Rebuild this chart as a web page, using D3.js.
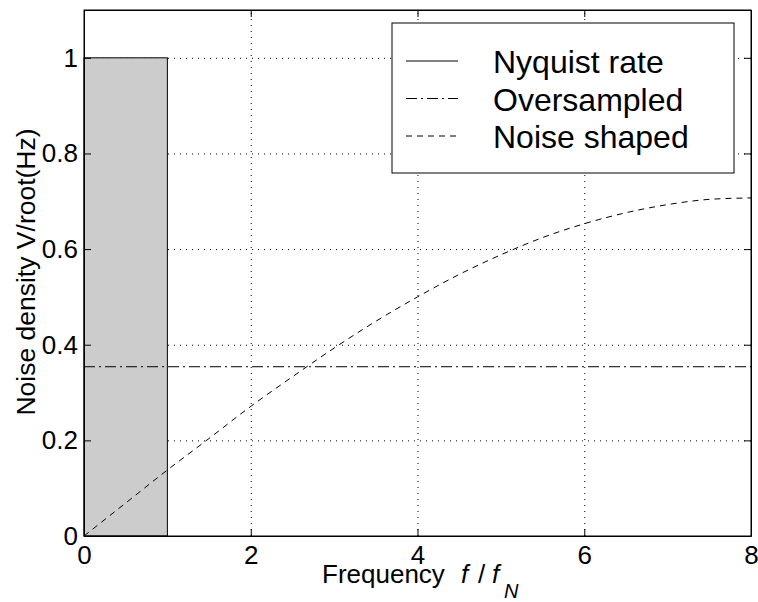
<!DOCTYPE html>
<html>
<head>
<meta charset="utf-8">
<script src="https://cdn.jsdelivr.net/npm/d3@7"></script>
<style>
  body { margin: 0; background: #fff; }
  svg { font-family: "Liberation Sans", Arial, sans-serif; }
  .tickText text { font-size: 26px; fill: #000; }
</style>
</head>
<body>
<div id="chart"></div>
<script>
// Values
var xTicks = [0, 2, 4, 6, 8];
var yTicks = [0, 0.2, 0.4, 0.6, 0.8, 1];
var yTickLabels = ["0", "0.2", "0.4", "0.6", "0.8", "1"];

// Nyquist rate block: flat noise up to f/fN = 1
var nyquistX = [0, 1];
var nyquistY = [1, 1];

// Oversampled: flat level across the band
var overX = [0, 8];
var overY = [0.354, 0.354];

// Noise shaped curve, read at half steps
var shapedX = [0, 0.5, 1, 1.5, 2, 2.5, 3, 3.5, 4, 4.5, 5, 5.5, 6, 6.5, 7, 7.5, 8];
var shapedY = [0, 0.069, 0.138, 0.204, 0.271, 0.333, 0.393, 0.449, 0.5,
               0.547, 0.588, 0.624, 0.653, 0.676, 0.693, 0.704, 0.707];

var legendNames = ["Nyquist rate", "Oversampled", "Noise shaped"];
var legendDash = ["none", "11,4,2,4", "6,5"];

// Size of the SVG
var width = 758;
var height = 602;
var plotLeft = 84, plotRight = 751, plotTop = 10, plotBottom = 536;
var tickLen = 7;

var svg = d3.select("#chart")
    .append("svg")
    .attr("width", width)
    .attr("height", height);

var x = d3.scaleLinear().domain([0, 8]).range([plotLeft, plotRight]);
var y = d3.scaleLinear().domain([0, 1.1]).range([plotBottom, plotTop]);

// Dotted grid
svg.append("g")
    .attr("transform", `translate(0, ${plotBottom})`)
    .call(d3.axisBottom(x).tickValues(xTicks.slice(1, -1)).tickSize(-(plotBottom - plotTop)).tickFormat(""))
    .call(g => g.select(".domain").remove())
    .selectAll("line")
    .attr("stroke", "#666")
    .attr("stroke-dasharray", "1,5");

svg.append("g")
    .attr("transform", `translate(${plotLeft}, 0)`)
    .call(d3.axisLeft(y).tickValues(yTicks.slice(1)).tickSize(-(plotRight - plotLeft)).tickFormat(""))
    .call(g => g.select(".domain").remove())
    .selectAll("line")
    .attr("stroke", "#666")
    .attr("stroke-dasharray", "1,5");

// Nyquist rate rectangle
svg.append("rect")
    .attr("x", x(nyquistX[0]))
    .attr("y", y(nyquistY[0]))
    .attr("width", x(nyquistX[1]) - x(nyquistX[0]))
    .attr("height", y(0) - y(nyquistY[1]))
    .attr("fill", "#cccccc")
    .attr("stroke", "#000")
    .attr("stroke-width", 1);

var line = d3.line()
    .x(function(d){ return x(d[0]); })
    .y(function(d){ return y(d[1]); });

// Oversampled line
svg.append("path")
    .datum(overX.map(function(v, i){ return [v, overY[i]]; }))
    .attr("d", line)
    .attr("fill", "none")
    .attr("stroke", "#000")
    .attr("stroke-width", 1)
    .attr("stroke-dasharray", legendDash[1]);

// Noise shaped curve
svg.append("path")
    .datum(shapedX.map(function(v, i){ return [v, shapedY[i]]; }))
    .attr("d", line.curve(d3.curveMonotoneX))
    .attr("fill", "none")
    .attr("stroke", "#000")
    .attr("stroke-width", 1)
    .attr("stroke-dasharray", legendDash[2]);

// Axes with inward ticks on all four sides
var xAxis = d3.axisBottom(x).tickValues(xTicks).tickSizeInner(-tickLen).tickSizeOuter(0).tickPadding(10);
var yAxis = d3.axisLeft(y).tickValues(yTicks).tickSizeInner(-tickLen).tickSizeOuter(0).tickPadding(6)
    .tickFormat(function(d, i){ return yTickLabels[i]; });

svg.append("g")
    .attr("class", "tickText")
    .attr("transform", `translate(0, ${plotBottom})`)
    .call(xAxis);

svg.append("g")
    .attr("class", "tickText")
    .attr("transform", `translate(${plotLeft}, 0)`)
    .call(yAxis);

svg.append("g")
    .attr("transform", `translate(0, ${plotTop})`)
    .call(d3.axisTop(x).tickValues(xTicks).tickSizeInner(-tickLen).tickSizeOuter(0).tickFormat(""));

svg.append("g")
    .attr("transform", `translate(${plotRight}, 0)`)
    .call(d3.axisRight(y).tickValues(yTicks).tickSizeInner(-tickLen).tickSizeOuter(0).tickFormat(""));

svg.selectAll(".domain, .tick line").attr("stroke", "#000");

// Frame
svg.append("rect")
    .attr("x", plotLeft)
    .attr("y", plotTop)
    .attr("width", plotRight - plotLeft)
    .attr("height", plotBottom - plotTop)
    .attr("fill", "none")
    .attr("stroke", "#000");

// Axis labels
var xLabel = svg.append("text")
    .attr("y", 583)
    .attr("font-size", 26);
xLabel.append("tspan").attr("x", 322).text("Frequency");
xLabel.append("tspan").attr("x", 461).attr("font-style", "italic").text("f");
xLabel.append("tspan").attr("x", 478).text("/");
xLabel.append("tspan").attr("x", 492).attr("font-style", "italic").text("f");
xLabel.append("tspan").attr("x", 504).attr("dy", 15).attr("font-style", "italic").attr("font-size", 20).text("N");

svg.append("text")
    .attr("transform", "translate(35, 272) rotate(-90)")
    .attr("text-anchor", "middle")
    .attr("font-size", 26.5)
    .text("Noise density V/root(Hz)");

// Legend
var legend = svg.append("g").attr("transform", "translate(392, 23)");
legend.append("rect")
    .attr("width", 342)
    .attr("height", 150)
    .attr("fill", "#fff")
    .attr("stroke", "#000");

legendNames.forEach(function(name, i){
    var cy = 38 + i * 37.5;
    legend.append("line")
        .attr("x1", 14).attr("x2", 66)
        .attr("y1", cy).attr("y2", cy)
        .attr("stroke", "#000")
        .attr("stroke-dasharray", legendDash[i]);
    legend.append("text")
        .attr("x", 101)
        .attr("y", cy + 12)
        .attr("font-size", 32)
        .text(name);
});
</script>
</body>
</html>
